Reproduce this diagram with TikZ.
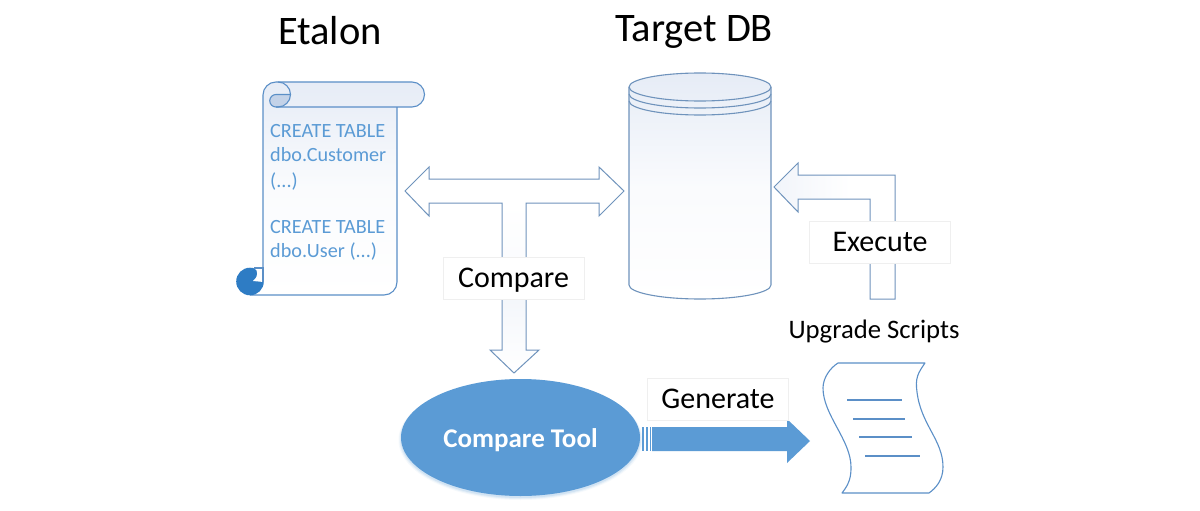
\documentclass[tikz,border=0pt]{standalone}
\usepackage{fontspec}
\setmainfont{Carlito}
\usetikzlibrary{shapes.geometric}
\definecolor{lineblue}{HTML}{6F93BC}
\definecolor{scrollline}{HTML}{5B8FC7}
\definecolor{fillblue}{HTML}{5B9BD5}
\definecolor{darkblue}{HTML}{2E7CC4}
\definecolor{lobe}{HTML}{C3D2E8}
\definecolor{palefill}{HTML}{E6ECF6}
\definecolor{boxline}{HTML}{EFEFEF}
\tikzset{
  blockarrow/.style={draw=lineblue,line width=1pt,line join=miter},
  scrollshape/.style={draw=scrollline,line width=1.1pt},
  cylshape/.style={draw=lineblue,line width=1.1pt},
  docline/.style={draw=scrollline,line width=1.1pt},
  labelbox/.style={draw=boxline,fill=white,line width=.8pt,minimum width=141pt,minimum height=42pt,inner sep=0pt,text height=30pt,text depth=12pt,font=\fontsize{30}{32}\selectfont,text=black},
  titletext/.style={inner sep=0pt,text=black,font=\fontsize{40.5}{44}\selectfont},
  scrolltext/.style={inner sep=0pt,anchor=base west,text=fillblue,font=\fontsize{20.2}{22}\selectfont}
}
\begin{document}
\begin{tikzpicture}[x=1pt,y=-1pt]
\useasboundingbox (0,0) rectangle (1200,511);
\fill[white] (0,0) rectangle (1200,511);

% ---------- scroll ----------
\path[top color=palefill,bottom color=white,middle color=palefill!20]
  (263,95) arc[start angle=180,end angle=270,radius=13] -- (412,82)
  arc[start angle=-90,end angle=90,radius=12.5] -- (397,107) -- (397,282)
  arc[start angle=0,end angle=90,radius=13] -- (250,295) -- (263,282) -- cycle;
\fill[lobe] (290.5,94.5) -- (276,94.5) arc[start angle=-90,end angle=-270,radius=6.25] -- (278,107)
  arc[start angle=90,end angle=0,radius=12.5] -- cycle;
\draw[scrollshape] (263,270) -- (263,95) arc[start angle=180,end angle=270,radius=13] -- (412,82)
  arc[start angle=-90,end angle=90,radius=12.5] -- (276,107);
\draw[scrollshape] (397,107) -- (397,282) arc[start angle=0,end angle=90,radius=13] -- (250,295);
\draw[scrollshape] (278,82) arc[start angle=-90,end angle=90,radius=12.5];
\draw[scrollshape] (290.5,94.5) -- (276,94.5) arc[start angle=-90,end angle=-270,radius=6.25] -- (278,107);
% bottom curl
\fill[darkblue] (250,281.5) circle[radius=13.8];
\fill[white] (263.6,268) -- (254,268) .. controls (258.5,270) and (258.5,277) .. (253,281) -- (263.6,282) -- cycle;
\draw[scrollshape] (254,268) -- (263,268) -- (263,282);
\node[scrolltext] (sa) at (270,137) {CREATE TABLE};
\node[scrolltext] (sb) at (270,161) {dbo.Customer};
\node[scrolltext] (sc) at (270,187) {(...)};
\node[scrolltext] (sd) at (270,233) {CREATE TABLE};
\node[scrolltext] (se) at (270,257) {dbo.User (...)};

% ---------- cylinder ----------
\path[top color=palefill,bottom color=white,middle color=palefill!22] (629,87) arc[x radius=71,y radius=14,start angle=180,end angle=360] -- (771,285)
  arc[x radius=71,y radius=14,start angle=0,end angle=180] -- cycle;
\draw[cylshape] (629,87) arc[x radius=71,y radius=14,start angle=180,end angle=360]
  -- (771,285) arc[x radius=71,y radius=14,start angle=0,end angle=180] -- cycle;
\draw[cylshape] (629,87) arc[x radius=71,y radius=14,start angle=180,end angle=0];
\draw[cylshape] (629,94) arc[x radius=71,y radius=14,start angle=180,end angle=0];
\draw[cylshape] (629,101) arc[x radius=71,y radius=14,start angle=180,end angle=0];

% ---------- T arrow ----------
\path[top color=white,bottom color=palefill!45] (503,204) rectangle (525,350);
\path[top color=palefill!45,bottom color=white] (503,299) -- (525,299) -- (525,350.5) -- (538,350.5) -- (514,372) -- (491,350.5) -- (503,350.5) -- cycle;
\draw[blockarrow]
  (405,191) -- (429,167) -- (429,179) -- (599,179) -- (599,167) -- (624,191) -- (599,216) -- (599,203)
  -- (526,203) -- (526,350) -- (539,350) -- (514,373) -- (490,350) -- (502,350) -- (502,203)
  -- (429,203) -- (429,216) -- cycle;

% ---------- execute arrow ----------
\path[left color=palefill!55,right color=white] (774,187) -- (798,163) -- (798,175) -- (850,175) -- (850,199) -- (798,199) -- (798,212) -- cycle;
\draw[blockarrow]
  (774,187) -- (798,163) -- (798,175) -- (895,175) -- (895,299) -- (870,299) -- (870,199) -- (798,199) -- (798,212) -- cycle;

% ---------- compare tool ----------
\fill[fillblue,opacity=.06] (520.5,440) ellipse[x radius=122,y radius=60];
\fill[fillblue,opacity=.10] (520.5,439.5) ellipse[x radius=121,y radius=59.5];
\fill[fillblue,opacity=.14] (520.5,439) ellipse[x radius=120,y radius=59];
\node[ellipse,fill=fillblue,minimum width=239pt,minimum height=117pt,inner sep=0pt,text height=29.5pt,text depth=10.5pt,text=white,font=\bfseries\fontsize{27}{29}\selectfont] (tool) at (520.5,437.5) {Compare Tool};

% ---------- generate arrow ----------
\fill[fillblue] (642,427) rectangle (644,451);
\fill[fillblue] (646,427) rectangle (648,451);
\fill[fillblue] (650,427) rectangle (651,451);
\fill[fillblue] (652,427) -- (787,427) -- (787,419) -- (810,441) -- (787,463) -- (787,451) -- (652,451) -- cycle;

% ---------- document ----------
\draw[docline,line join=round] (838,363) -- (925,363) .. controls (918,373) and (915,378) .. (917,392)
  .. controls (921,425) and (943,440) .. (943,467) .. controls (943,480) and (936,488) .. (929,493)
  -- (842,493) .. controls (850,483) and (851,476) .. (851,467)
  .. controls (851,440) and (823,415) .. (823,388) .. controls (823,378) and (830,368) .. (838,363) -- cycle;
\draw[docline] (847,400) -- (902,400);
\draw[docline] (853,419) -- (905,419);
\draw[docline] (859,437) -- (912,437);
\draw[docline] (865,456) -- (920,456);

% ---------- labels ----------
\node[labelbox] (compare) at (513.5,278) {Compare};
\node[labelbox] (execute) at (880,242) {Execute};
\node[labelbox] (generate) at (718,399.5) {Generate};
\node[titletext] (etalon) at (330,31) {Etalon};
\node[titletext] (target) at (694,32) {Target DB};
\node[inner sep=0pt,text=black,font=\fontsize{26.7}{28}\selectfont] (upgrade) at (874,332) {Upgrade Scripts};
\end{tikzpicture}
\end{document}
